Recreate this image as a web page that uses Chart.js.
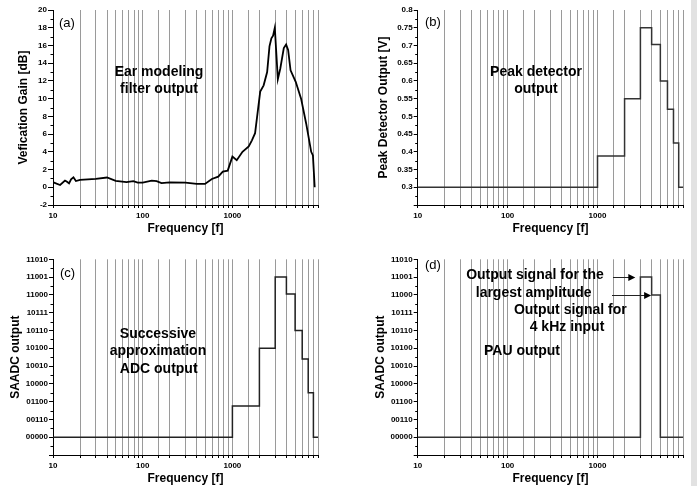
<!DOCTYPE html>
<html>
<head>
<meta charset="utf-8">
<script src="https://cdn.jsdelivr.net/npm/chart.js@4.4.0/dist/chart.umd.min.js"></script>
<style>
  body { margin: 0; background: #fff; width: 697px; height: 486px; position: relative; overflow: hidden; }
  canvas { position: absolute; }
  #strip { position: absolute; left: 691px; top: 0; width: 6px; height: 486px; background: #e2e2e2; }
</style>
</head>
<body>
<canvas id="chartA" width="340" height="240" style="left:0;top:0"></canvas>
<canvas id="chartB" width="350" height="240" style="left:340px;top:0"></canvas>
<canvas id="chartC" width="340" height="246" style="left:0;top:240px"></canvas>
<canvas id="chartD" width="350" height="246" style="left:340px;top:240px"></canvas>
<div id="strip"></div>
<script>
// x axis labels shown on the log frequency axis
const freqLabels = [10, 100, 1000];

// (a) ear modeling filter gain
const gainFreq = [10.1, 12, 13.6, 14.2, 15.1, 15.9, 16.9, 18, 20, 30, 40, 50, 66, 78.6, 88, 100, 126, 143, 162, 200,
  300, 400, 495, 590, 695, 782, 887, 1000, 1118, 1295, 1520, 1650, 1790, 2042, 2230, 2440, 2590, 2720, 2840, 2970,
  3210, 3420, 3740, 3970, 4180, 4450, 5080, 5830, 6640, 7560, 7900, 8270];
const gainDb = [0.56, 0.26, 0.75, 0.65, 0.45, 0.9, 1.13, 0.7, 0.83, 0.95, 1.1, 0.72, 0.58, 0.7, 0.53, 0.53, 0.75, 0.7, 0.47, 0.56,
  0.53, 0.38, 0.38, 0.94, 1.2, 1.77, 1.88, 3.46, 3.05, 4.0, 4.6, 5.3, 6.1, 10.8, 11.5, 13.0, 15.9, 16.8, 17.1, 18.0,
  12.2, 13.4, 15.7, 16.1, 15.5, 13.2, 11.9, 10.0, 7.2, 4.0, 3.6, 0];

// (b) peak detector, one value per band starting at each edge
const bandEdges = [10, 1000, 2000, 3000, 4000, 5000, 6000, 7000, 8000, 9000];
const peakVolts = [0.3, 0.388, 0.55, 0.75, 0.703, 0.6, 0.52, 0.425, 0.3, 0.3];

// (c) SAADC codes (axis levels) and output level per band
const adcCodes = ['00000', '00110', '01100', '10000', '10010', '10100', '10110', '10111', '11000', '11001', '11010'];
const adcLevel = [0, 1.76, 5, 9, 8.05, 6, 4.4, 2.5, 0, 0];

// (d) PAU output
const pauEdges = [10, 3000, 4000, 5000, 9000];
const pauLevel = [0, 9, 8, 0, 0];

const FONT = "'Liberation Sans', Arial, sans-serif";

// small ticks half way between labelled y ticks
const minorTicks = {
  id: 'minorTicks',
  afterDraw(chart) {
    const y = chart.scales.y;
    const ctx = chart.ctx;
    const t = y.ticks;
    ctx.save();
    ctx.strokeStyle = '#000';
    ctx.lineWidth = 1;
    for (let i = 0; i < t.length - 1; i++) {
      const py = Math.round(y.getPixelForValue((t[i].value + t[i + 1].value) / 2)) + 0.5;
      ctx.beginPath();
      ctx.moveTo(y.right - 2.5, py);
      ctx.lineTo(y.right, py);
      ctx.stroke();
    }
    ctx.restore();
  }
};

// panel letters, inline labels and arrows
const notes = {
  id: 'notes',
  afterDraw(chart, args, opts) {
    const ctx = chart.ctx;
    ctx.save();
    ctx.fillStyle = '#000';
    ctx.textBaseline = 'middle';
    (opts.texts || []).forEach(n => {
      ctx.font = n.font;
      ctx.textAlign = n.align || 'center';
      ctx.fillText(n.text, n.x, n.y);
    });
    (opts.arrows || []).forEach(a => {
      const tx = chart.scales.x.getPixelForValue(a.tip);
      const py = Math.round(chart.scales.y.getPixelForValue(a.level)) + 0.5;
      ctx.strokeStyle = '#222';
      ctx.lineWidth = 1;
      ctx.beginPath();
      ctx.moveTo(a.x0, py);
      ctx.lineTo(tx - 6, py);
      ctx.stroke();
      ctx.beginPath();
      ctx.moveTo(tx, py);
      ctx.lineTo(tx - 7, py - 3.5);
      ctx.lineTo(tx - 7, py + 3.5);
      ctx.closePath();
      ctx.fill();
    });
    ctx.restore();
  }
};

function stepPoints(edges, values) {
  return edges.map((e, i) => ({ x: e, y: values[i] }));
}

function makeChart(id, opt) {
  const config = {
    type: 'line',
    data: {
      datasets: [{
        data: opt.points,
        borderColor: opt.color,
        borderWidth: opt.lineWidth,
        pointRadius: 0,
        stepped: opt.stepped || false,
        tension: 0,
        fill: false
      }]
    },
    options: {
      responsive: false,
      animation: false,
      events: [],
      layout: { padding: { top: opt.padTop, right: opt.padRight, left: 0, bottom: 0 } },
      plugins: {
        legend: { display: false },
        tooltip: { enabled: false },
        notes: { texts: opt.texts, arrows: opt.arrows || [] }
      },
      scales: {
        x: {
          type: 'logarithmic',
          min: 10,
          max: 9000,
          afterFit: s => { s.height = opt.xHeight; },
          border: { color: '#000', width: 1 },
          grid: { color: '#9a9a9a', lineWidth: 1, tickColor: '#000', tickLength: 3 },
          ticks: {
            autoSkip: false,
            maxRotation: 0,
            padding: 3,
            color: '#000',
            font: { family: FONT, size: 8, weight: 'bold' },
            callback: v => freqLabels.includes(v) ? String(v) : ''
          },
          title: {
            display: true,
            text: 'Frequency [f]',
            color: '#000',
            font: { family: FONT, size: 12, weight: 'bold' },
            padding: { top: 0, bottom: opt.xTitlePad }
          }
        },
        y: {
          min: opt.yMin,
          max: opt.yMax,
          afterFit: s => { s.width = opt.yWidth; },
          border: { color: '#000', width: 1 },
          grid: { drawOnChartArea: false, tickColor: '#000', tickLength: opt.tickLen },
          ticks: {
            stepSize: opt.yStep,
            padding: 1,
            color: '#000',
            font: { family: FONT, size: 8, weight: 'bold' },
            callback: opt.yLabel
          },
          title: {
            display: true,
            text: opt.yTitle,
            color: '#000',
            font: { family: FONT, size: 12, weight: 'bold' },
            padding: { top: opt.yTitlePad, bottom: 0 }
          }
        }
      }
    },
    plugins: [minorTicks, notes]
  };
  return new Chart(document.getElementById(id).getContext('2d'), config);
}

const bold14 = 'bold 14px ' + FONT;
const letter = '13px ' + FONT;
const codeLabel = v => (v >= 0 && v < adcCodes.length) ? adcCodes[v] : '';

makeChart('chartA', {
  points: gainFreq.map((f, i) => ({ x: f, y: gainDb[i] })),
  color: '#000', lineWidth: 1.8,
  padTop: 10, padRight: 22, xHeight: 35, xTitlePad: 4, yWidth: 53, tickLen: 5, yTitlePad: 16,
  yMin: -2, yMax: 20, yStep: 2, yTitle: 'Vefication Gain [dB]',
  yLabel: v => String(v),
  texts: [
    { text: '(a)', x: 59, y: 23.5, font: letter, align: 'left' },
    { text: 'Ear modeling', x: 159, y: 72, font: bold14 },
    { text: 'filter output', x: 159, y: 89, font: bold14 }
  ]
});

makeChart('chartB', {
  points: stepPoints(bandEdges, peakVolts),
  stepped: true, color: '#333', lineWidth: 1.5,
  padTop: 10, padRight: 6.7, xHeight: 35, xTitlePad: 4, yWidth: 77.7, tickLen: 4, yTitlePad: 36,
  yMin: 0.25, yMax: 0.8, yStep: 0.05, yTitle: 'Peak Detector Output [V]',
  yLabel: v => Math.abs(v - 0.25) < 1e-6 ? '' : String(Number(v.toFixed(2))),
  texts: [
    { text: '(b)', x: 85, y: 22, font: letter, align: 'left' },
    { text: 'Peak detector', x: 196, y: 72, font: bold14 },
    { text: 'output', x: 196, y: 89, font: bold14 }
  ]
});

makeChart('chartC', {
  points: stepPoints(bandEdges, adcLevel),
  stepped: true, color: '#222', lineWidth: 1.5,
  padTop: 19.3, padRight: 22, xHeight: 31, xTitlePad: 0.5, yWidth: 53, tickLen: 4, yTitlePad: 8,
  yMin: -1, yMax: 10, yStep: 1, yTitle: 'SAADC output',
  yLabel: codeLabel,
  texts: [
    { text: '(c)', x: 60, y: 33.3, font: letter, align: 'left' },
    { text: 'Successive', x: 158, y: 93.7, font: bold14 },
    { text: 'approximation', x: 158, y: 110.8, font: bold14 },
    { text: 'ADC output', x: 158.7, y: 129, font: bold14 }
  ]
});

makeChart('chartD', {
  points: stepPoints(pauEdges, pauLevel),
  stepped: true, color: '#333', lineWidth: 1.5,
  padTop: 19.3, padRight: 6.7, xHeight: 31, xTitlePad: 0.5, yWidth: 77.7, tickLen: 4, yTitlePad: 33,
  yMin: -1, yMax: 10, yStep: 1, yTitle: 'SAADC output',
  yLabel: codeLabel,
  texts: [
    { text: '(d)', x: 85, y: 25.7, font: letter, align: 'left' },
    { text: 'Output signal for the', x: 195, y: 35.3, font: bold14 },
    { text: 'largest amplitude', x: 193.7, y: 53.3, font: bold14 },
    { text: 'Output signal for', x: 230.3, y: 70, font: bold14 },
    { text: '4 kHz input', x: 227, y: 86.7, font: bold14 },
    { text: 'PAU output', x: 182, y: 111, font: bold14 }
  ],
  arrows: [
    { x0: 273, tip: 2635, level: 9 },
    { x0: 272, tip: 3950, level: 8 }
  ]
});
</script>
</body>
</html>
